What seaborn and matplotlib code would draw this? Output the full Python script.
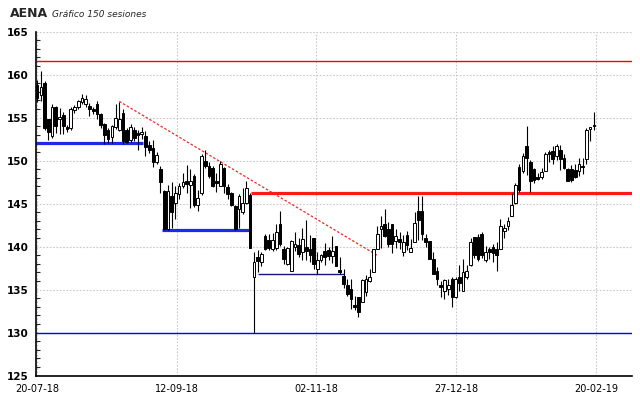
import numpy as np
import pandas as pd
import matplotlib
matplotlib.use("Agg")
import matplotlib.pyplot as plt
import seaborn as sns

# Datos (150 sesiones)
opens = [158.8, 157.6, 159.0, 154.8, 152.9, 156.2, 154.9, 155.3, 153.9, 153.8,
         155.9, 156.2, 156.8, 156.6, 156.4, 156.0, 156.6, 155.4, 154.3, 153.6,
         152.7, 153.9, 153.6, 155.6, 153.6, 152.4, 153.6, 153.2, 153.1, 152.9,
         151.8, 151.5, 149.9, 149.0, 146.5, 142.0, 145.9, 145.1, 146.1, 147.1,
         147.6, 147.2, 148.2, 144.8, 146.2, 150.0, 149.4, 149.1, 147.6, 147.1,
         149.1, 146.9, 146.3, 144.7, 144.4, 144.0, 145.1, 146.0, 136.5, 138.8,
         138.2, 141.3, 140.8, 139.7, 139.9, 142.6, 139.7, 138.0, 137.2, 140.0,
         140.2, 139.4, 140.0, 139.7, 141.0, 137.4, 138.4, 139.5, 139.6, 138.9,
         140.1, 137.3, 136.6, 135.6, 135.1, 133.2, 134.1, 133.6, 134.7, 136.0,
         137.1, 139.7, 142.0, 142.6, 142.0, 142.6, 140.7, 140.9, 139.4, 141.4,
         139.4, 140.6, 144.2, 144.2, 141.0, 140.7, 138.6, 137.2, 135.5, 134.9,
         135.1, 136.3, 134.1, 136.5, 134.8, 136.5, 137.9, 141.1, 141.1, 141.5,
         138.4, 139.7, 140.0, 139.7, 139.7, 141.8, 142.4, 143.6, 145.1, 149.3,
         148.8, 151.7, 149.8, 149.0, 148.1, 148.1, 148.8, 151.0, 151.1, 150.5,
         151.3, 150.3, 149.0, 149.0, 148.9, 148.8, 149.4, 150.2, 153.7, 154.2]
highs = [159.4, 160.4, 159.3, 154.9, 156.6, 156.4, 156.1, 155.7, 154.2, 156.2,
         156.5, 157.0, 157.8, 157.6, 156.7, 156.3, 156.9, 155.6, 154.4, 153.8,
         154.2, 156.6, 156.8, 156.0, 153.8, 154.3, 153.9, 153.6, 153.9, 153.4,
         152.3, 152.4, 151.0, 149.4, 146.6, 147.2, 147.5, 147.0, 147.4, 148.6,
         149.5, 149.0, 148.5, 146.6, 150.8, 151.3, 149.8, 149.4, 148.6, 150.0,
         149.3, 147.3, 146.4, 144.8, 146.1, 146.8, 147.6, 146.2, 139.4, 139.6,
         139.4, 141.5, 141.5, 141.6, 142.6, 144.2, 140.1, 140.0, 140.8, 141.7,
         141.0, 142.2, 143.1, 141.4, 141.0, 139.4, 139.2, 140.4, 140.0, 141.2,
         140.1, 138.8, 137.4, 136.3, 136.2, 134.3, 134.2, 136.3, 136.7, 137.4,
         139.7, 142.4, 143.6, 144.4, 142.9, 142.6, 142.0, 141.7, 141.4, 141.8,
         140.9, 144.0, 145.9, 145.9, 141.5, 140.7, 139.4, 137.6, 136.0, 136.2,
         136.3, 136.5, 136.5, 137.9, 138.6, 137.9, 141.0, 141.1, 141.5, 141.7,
         140.1, 140.0, 140.3, 140.5, 143.2, 142.6, 143.5, 146.3, 147.4, 149.6,
         150.9, 154.0, 150.1, 149.2, 148.6, 149.1, 151.0, 151.2, 151.7, 151.9,
         151.8, 150.8, 149.2, 149.5, 149.6, 150.3, 150.3, 153.8, 153.9, 155.7]
lows = [156.8, 156.9, 153.6, 152.4, 152.6, 153.2, 153.1, 153.1, 153.3, 153.6,
        155.6, 156.0, 156.6, 156.2, 155.2, 155.4, 154.9, 153.8, 151.9, 152.0,
        152.0, 153.7, 153.4, 151.9, 152.0, 152.2, 152.3, 151.2, 152.5, 150.5,
        150.9, 149.3, 149.6, 146.3, 141.9, 141.9, 142.2, 143.2, 145.6, 146.8,
        146.2, 144.5, 144.6, 144.1, 146.0, 149.2, 148.0, 146.9, 146.4, 147.0,
        146.3, 145.6, 144.7, 141.9, 142.2, 143.8, 145.0, 139.8, 130.0, 137.1,
        137.7, 139.6, 139.6, 139.5, 139.6, 140.1, 138.0, 137.9, 137.2, 139.5,
        138.8, 138.5, 138.4, 138.2, 137.4, 136.8, 138.2, 137.9, 138.5, 138.1,
        137.8, 136.8, 135.2, 134.3, 132.8, 132.6, 131.8, 133.6, 134.3, 135.9,
        137.1, 139.7, 139.8, 141.1, 140.0, 139.3, 139.9, 139.7, 138.9, 139.6,
        139.4, 140.6, 140.8, 140.8, 140.0, 138.6, 136.8, 135.6, 134.2, 133.9,
        134.4, 133.0, 134.0, 134.8, 134.8, 136.2, 137.7, 138.7, 138.3, 138.7,
        138.2, 138.6, 138.2, 137.2, 139.7, 141.0, 141.9, 143.6, 145.0, 146.4,
        148.6, 148.3, 146.4, 147.4, 147.7, 147.9, 148.8, 149.9, 149.6, 150.1,
        148.9, 149.0, 147.6, 147.5, 148.0, 148.2, 148.4, 149.6, 152.3, 153.6]
closes = [157.3, 158.6, 153.8, 153.3, 156.3, 154.0, 155.1, 154.0, 153.7, 156.0,
          156.3, 156.9, 157.3, 157.2, 156.0, 155.8, 155.4, 154.2, 153.0, 152.5,
          154.0, 155.0, 154.8, 152.3, 152.2, 153.9, 152.6, 153.0, 153.3, 151.6,
          151.2, 149.8, 150.7, 147.5, 142.0, 146.5, 144.0, 146.3, 147.1, 147.5,
          147.3, 147.6, 144.9, 145.7, 150.5, 149.4, 148.2, 147.1, 147.4, 149.6,
          147.1, 146.1, 144.9, 142.0, 145.9, 145.1, 146.8, 139.8, 138.2, 138.3,
          139.2, 139.7, 139.8, 140.8, 141.7, 140.3, 138.6, 139.9, 140.7, 140.3,
          139.2, 140.9, 139.5, 139.0, 138.0, 138.4, 139.0, 138.8, 138.9, 139.5,
          137.8, 137.1, 135.7, 134.5, 133.9, 133.0, 132.4, 136.1, 136.3, 136.5,
          139.7, 141.5, 142.4, 141.3, 140.3, 140.3, 141.3, 140.5, 140.5, 140.2,
          139.9, 142.8, 143.1, 141.5, 140.6, 138.6, 136.8, 136.3, 135.3, 136.1,
          135.6, 134.1, 136.3, 135.8, 137.1, 137.2, 140.6, 139.0, 138.6, 139.0,
          139.4, 139.4, 139.3, 139.0, 142.4, 142.2, 143.0, 144.8, 147.2, 146.6,
          150.6, 150.3, 147.6, 147.8, 147.9, 148.7, 150.8, 150.8, 150.2, 151.7,
          150.2, 149.2, 147.6, 147.8, 148.1, 149.6, 149.3, 153.6, 153.9, 154.0]

fechas = ["20-07-18", "12-09-18", "02-11-18", "27-12-18", "20-02-19"]

# Lineas de soporte / resistencia
resist_alta = 161.6
resist_media = 146.3
soporte_1 = 152.1
soporte_2 = 141.9
soporte_3 = 136.8
soporte_base = 130.0
tendencia_ini = (22, 156.9)
tendencia_fin = (91, 139.0)

df = pd.DataFrame({"open": opens, "high": highs, "low": lows, "close": closes})
df["sesion"] = np.arange(len(df))
df["sube"] = df["close"] >= df["open"]

sns.set_style("white")
plt.rcParams["font.family"] = ["DejaVu Sans"]

fig = plt.figure(figsize=(6.4, 3.98), dpi=100)
ax = fig.add_axes([36 / 640, 1 - 375.7 / 398, 596 / 640, 344 / 398])

x_max = 159.2
ax.set_xlim(-0.3, x_max)
ax.set_ylim(125, 165)

# rejilla punteada
ax.set_yticks(np.arange(125, 166, 5))
ax.set_yticks(np.arange(125, 166, 1), minor=True)
xt = np.linspace(0, 149.5, 5)
ax.set_xticks(xt)
ax.set_xticklabels(fechas, fontsize=7)
ax.set_yticklabels([str(v) for v in range(125, 166, 5)], fontsize=7.5, fontweight="bold")
ax.grid(True, which="major", color="#c8c8cc", linestyle=(0, (1.5, 1.5)), linewidth=0.8)

# lineas horizontales
ax.hlines(resist_alta, -0.3, x_max, color="#ff0000", lw=1.0, zorder=1.5)
ax.hlines(soporte_base, -0.3, x_max, color="#0000ff", lw=1.0, zorder=1.5)
ax.hlines(soporte_1, -0.3, 28.4, color="#1a2ae8", lw=2.3, zorder=1.5)
ax.hlines(soporte_2, 33.4, 57.0, color="#1a2ae8", lw=2.3, zorder=1.5)
ax.hlines(resist_media, 57.3, x_max, color="#ff1a1a", lw=2.3, zorder=1.5)
ax.hlines(soporte_3, 59.2, 82.2, color="#14148c", lw=1.0, zorder=1.5)

# linea de tendencia
tend = pd.DataFrame({"x": [tendencia_ini[0], tendencia_fin[0]],
                     "y": [tendencia_ini[1], tendencia_fin[1]]})
sns.lineplot(data=tend, x="x", y="y", ax=ax, color="#ff2020",
             linestyle=(0, (2, 1.5)), linewidth=0.9, zorder=1.6)

# velas
ax.vlines(df["sesion"], df["low"], df["high"], color="black", lw=0.8, zorder=2)
cuerpo = (df["close"] - df["open"]).abs().clip(lower=0.1)
ax.bar(df["sesion"], cuerpo, bottom=df[["open", "close"]].min(axis=1),
       width=0.72, color=np.where(df["sube"], "white", "black"),
       edgecolor="black", linewidth=0.7, zorder=3)

ax.set_xlabel("")
ax.set_ylabel("")
for s in ["top", "right"]:
    ax.spines[s].set_visible(False)
for s in ["left", "bottom"]:
    ax.spines[s].set_color("black")
    ax.spines[s].set_linewidth(1.2)

ax.tick_params(axis="y", which="major", direction="out", length=4, width=1, pad=1, colors="black")
ax.tick_params(axis="y", which="minor", direction="in", length=3, width=0.8, left=True)
ax.tick_params(axis="x", which="major", direction="inout", length=6, width=1, pad=3, colors="black")

fig.text(10 / 640, 1 - 17 / 398, "AENA", fontsize=9, fontweight="bold", va="baseline")
fig.text(52 / 640, 1 - 17 / 398, "Gráfico 150 sesiones", fontsize=6.5, style="italic", va="baseline")

fig.savefig("out.png", dpi=100)
